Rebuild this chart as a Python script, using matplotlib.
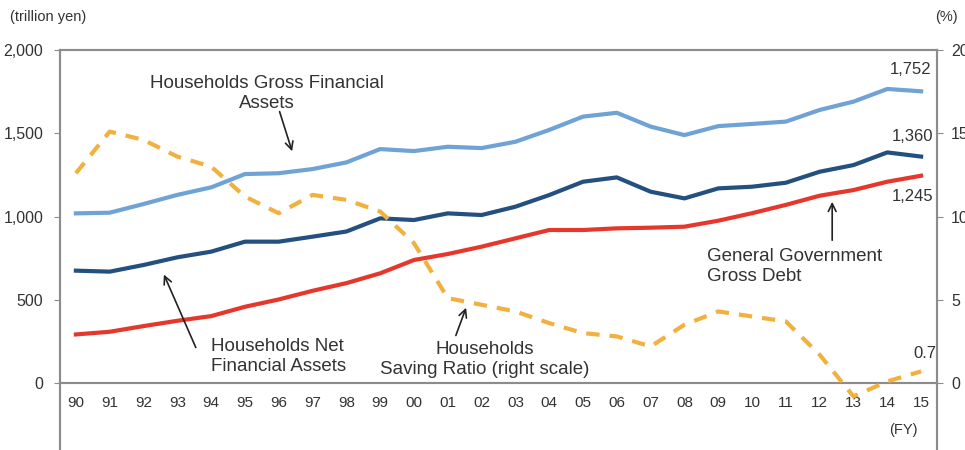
import numpy as np
import matplotlib
matplotlib.use('Agg')
import matplotlib.pyplot as plt

plt.rcParams['font.family'] = ['Liberation Sans', 'DejaVu Sans']

years = ['90', '91', '92', '93', '94', '95', '96', '97', '98', '99', '00', '01', '02',
         '03', '04', '05', '06', '07', '08', '09', '10', '11', '12', '13', '14', '15']
gross_assets = [1019, 1023, 1075, 1130, 1175, 1255, 1260, 1285, 1325, 1405, 1393, 1419, 1411,
                1449, 1520, 1600, 1623, 1540, 1489, 1543, 1556, 1570, 1640, 1690, 1766, 1752]
net_assets = [675, 669, 709, 755, 789, 849, 849, 879, 910, 989, 979, 1019, 1009,
              1059, 1129, 1209, 1235, 1149, 1109, 1169, 1179, 1203, 1269, 1309, 1385, 1360]
gov_debt = [292, 308, 342, 374, 402, 458, 502, 554, 600, 659, 739, 775, 819,
            869, 919, 919, 929, 933, 939, 975, 1020, 1070, 1125, 1159, 1209, 1245]
saving_ratio = [12.6, 15.1, 14.6, 13.6, 13.0, 11.2, 10.2, 11.3, 11.0, 10.3, 8.4, 5.1, 4.7,
                4.3, 3.6, 3.0, 2.8, 2.2, 3.5, 4.3, 4.0, 3.7, 1.7, -0.8, 0.1, 0.7]

c_light = '#6fa3d6'
c_dark = '#23507f'
c_red = '#e5372c'
c_orange = '#f2b03f'
c_axis = '#8c8c8c'
c_text = '#333333'

fig = plt.figure(figsize=(9.65, 4.5), dpi=100)
ax = fig.add_axes([60/965, 0.0, 877/965, 400/450])
ax2 = ax.twinx()

x = np.arange(len(years))
ax.plot(x, gross_assets, color=c_light, lw=3, solid_joinstyle='round', zorder=3)
ax.plot(x, net_assets, color=c_dark, lw=3, solid_joinstyle='round', zorder=3)
ax.plot(x, gov_debt, color=c_red, lw=3, solid_joinstyle='round', zorder=3)
ax2.plot(x, saving_ratio, color=c_orange, lw=3, dashes=(3.2, 2.4), zorder=3)

ax.set_xlim(-0.47, len(years) - 1 + 0.47)
ax.set_ylim(-402, 2000)
ax2.set_ylim(-4.02, 20)

for a in (ax, ax2):
    for s in a.spines.values():
        s.set_color(c_axis)
        s.set_linewidth(1.5)
    a.spines['bottom'].set_position(('data', 0))

ax.set_yticks([0, 500, 1000, 1500, 2000])
ax.set_yticklabels(['0', '500', '1,000', '1,500', '2,000'])
ax2.set_yticks([0, 5, 10, 15, 20])
ax.tick_params(axis='y', length=4, color=c_axis, labelsize=11.5, labelcolor=c_text, pad=8)
ax2.tick_params(axis='y', length=4, color=c_axis, labelsize=11.5, labelcolor=c_text, pad=6)
ax.set_xticks(x)
ax.set_xticklabels(years)
ax.tick_params(axis='x', length=0, labelsize=11, labelcolor=c_text, pad=9)
ax2.tick_params(axis='x', length=0)

fig.text(10/965, 1 - 17/450, '(trillion yen)', fontsize=10.5, color=c_text, va='center', ha='left')
fig.text(946/965, 1 - 17/450, '(%)', fontsize=10.5, color=c_text, va='center', ha='center')
fig.text(903/965, 1 - 430/450, '(FY)', fontsize=10.5, color=c_text, va='center', ha='center')

ann = dict(fontsize=13.5, color=c_text, linespacing=1.2, va='center')
arrow = dict(arrowstyle='->', color='#222222', lw=1.2, mutation_scale=14)

ax.text(5.65, 1740, 'Households Gross Financial\nAssets', ha='center', **ann)
ax.annotate('', xy=(6.42, 1376), xytext=(6.0, 1646), arrowprops=arrow)

ax.text(4.0, 160, 'Households Net\nFinancial Assets', ha='left', **ann)
ax.annotate('', xy=(2.57, 667), xytext=(3.58, 198), arrowprops=arrow)

ax.text(12.1, 140, 'Households\nSaving Ratio (right scale)', ha='center', **ann)
ax.annotate('', xy=(11.57, 468), xytext=(11.21, 270), arrowprops=arrow)

ax.text(18.67, 700, 'General Government\nGross Debt', ha='left', **ann)
ax.annotate('', xy=(22.37, 1105), xytext=(22.37, 841), arrowprops=arrow)

lab = dict(fontsize=12, color=c_text, ha='right', va='center')
ax.text(25.3, 1885, '1,752', **lab)
ax.text(25.35, 1483, '1,360', **lab)
ax.text(25.35, 1123, '1,245', **lab)
ax.text(25.45, 180, '0.7', **lab)

fig.savefig('out.png', dpi=100)
